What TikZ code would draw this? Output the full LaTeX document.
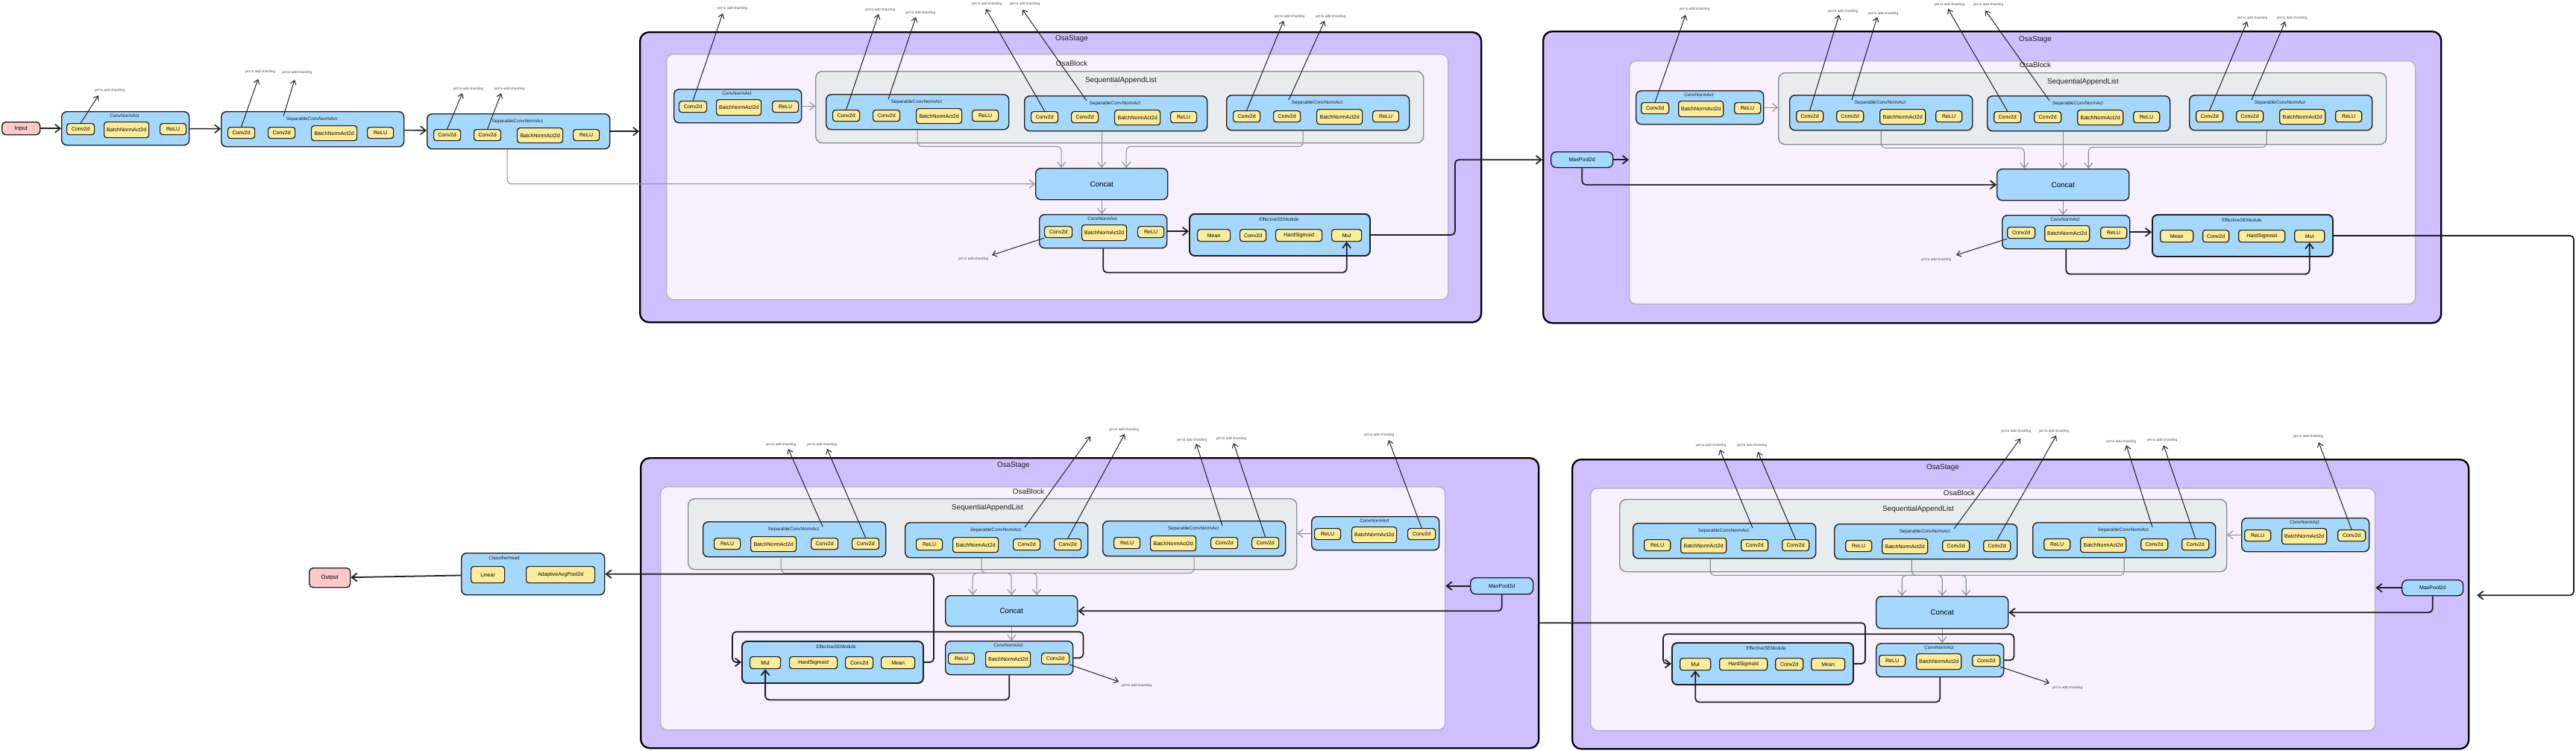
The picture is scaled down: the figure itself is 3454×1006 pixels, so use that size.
\documentclass[tikz,border=0pt]{standalone}
\usepackage{fontspec}
\setmainfont{Liberation Sans}
\usetikzlibrary{arrows.meta}
\definecolor{ink}{HTML}{1E1E1E}
\definecolor{stagepurple}{HTML}{D0BFFF}
\definecolor{blockpink}{HTML}{F8F0FC}
\definecolor{blockedge}{HTML}{ADB5BD}
\definecolor{listgray}{HTML}{E9ECEF}
\definecolor{listedge}{HTML}{868E96}
\definecolor{modblue}{HTML}{A5D8FF}
\definecolor{opyellow}{HTML}{FFEC99}
\definecolor{iopink}{HTML}{FFC9C9}
\newcommand{\opfont}{\fontsize{2}{2.4}\selectfont}
\newcommand{\tagfont}{\fontsize{1.8}{2.2}\selectfont}
\newcommand{\titlefont}{\fontsize{2.8}{3.4}\selectfont}
\newcommand{\notefont}{\fontsize{1.35}{1.6}\selectfont}
\newcommand{\iofont}{\fontsize{2.2}{2.6}\selectfont}
\tikzset{
  stagebox/.style={draw=black,fill=stagepurple,line width=0.65pt,rounded corners=1.2mm,inner sep=0pt},
  blockbox/.style={draw=blockedge,fill=blockpink,line width=0.4pt,rounded corners=0.9mm,inner sep=0pt},
  listbox/.style={draw=listedge,fill=listgray,line width=0.4pt,rounded corners=0.9mm,inner sep=0pt},
  modbox/.style={draw=ink,fill=modblue,line width=0.4pt,rounded corners=0.7mm,inner sep=0pt},
  sebox/.style={modbox,line width=0.55pt},
  opbox/.style={draw=ink,fill=opyellow,line width=0.35pt,rounded corners=0.35mm,inner sep=0pt,font=\opfont},
  iobox/.style={draw=ink,fill=iopink,line width=0.4pt,rounded corners=0.5mm,inner sep=0pt,font=\iofont},
  tag/.style={font=\tagfont,inner sep=0pt,text=ink},
  title/.style={font=\titlefont,inner sep=0pt,text=ink},
  note/.style={font=\notefont,inner sep=0pt,text=ink!80},
  flow/.style={-{Straight Barb[length=0.7mm,width=1.1mm]},ink,line width=0.45pt},
  bigflow/.style={flow,line width=0.5pt,rounded corners=0.5mm},
  plainline/.style={ink,line width=0.5pt,rounded corners=0.5mm},
  link/.style={-{Straight Barb[length=0.7mm,width=1.1mm]},listedge,line width=0.3pt,rounded corners=0.6mm},
  notearrow/.style={-{Straight Barb[length=0.55mm,width=0.8mm]},ink,line width=0.28pt},
}
% box with top left corner at (x,y), size in px
\newcommand{\blk}[7]{% style, name, x, y, w, h, text
  \node[#1,anchor=north west,minimum width={#5*0.1mm},minimum height={#6*0.1mm}] (#2) at (#3,#4) {#7};}
\newcommand{\convnormact}[3]{% name, x, y
  \begin{scope}[shift={(#2,#3)}]
    \blk{modbox}{#1}{0}{0}{171}{45}{}
    \node[tag] (#1-t) at (85,6) {ConvNormAct};
    \blk{opbox}{#1-cv}{7}{16}{37}{15}{Conv2d}
    \blk{opbox}{#1-bn}{57}{14}{60}{21}{BatchNormAct2d}
    \blk{opbox}{#1-act}{132}{16}{35}{15}{ReLU}
  \end{scope}}
\newcommand{\convnormactr}[3]{% mirrored
  \begin{scope}[shift={(#2,#3)}]
    \blk{modbox}{#1}{0}{0}{171}{45}{}
    \node[tag] (#1-t) at (85,6) {ConvNormAct};
    \blk{opbox}{#1-act}{4}{16}{35}{15}{ReLU}
    \blk{opbox}{#1-bn}{54}{14}{60}{21}{BatchNormAct2d}
    \blk{opbox}{#1-cv}{129}{16}{37}{15}{Conv2d}
  \end{scope}}
\newcommand{\sepconv}[3]{%
  \begin{scope}[shift={(#2,#3)}]
    \blk{modbox}{#1}{0}{0}{245}{47}{}
    \node[tag] (#1-t) at (122,11) {SeparableConvNormAct};
    \blk{opbox}{#1-c1}{9}{21}{36}{15}{Conv2d}
    \blk{opbox}{#1-c2}{63}{21}{36}{15}{Conv2d}
    \blk{opbox}{#1-bn}{121}{19}{61}{20}{BatchNormAct2d}
    \blk{opbox}{#1-act}{196}{21}{35}{15}{ReLU}
    \coordinate (#1-p) at (84,7);
  \end{scope}}
\newcommand{\sepconvr}[3]{%
  \begin{scope}[shift={(#2,#3)}]
    \blk{modbox}{#1}{0}{0}{245}{47}{}
    \node[tag] (#1-t) at (122,11) {SeparableConvNormAct};
    \blk{opbox}{#1-act}{15}{22}{35}{15}{ReLU}
    \blk{opbox}{#1-bn}{64}{20}{61}{20}{BatchNormAct2d}
    \blk{opbox}{#1-c2}{145}{22}{36}{15}{Conv2d}
    \blk{opbox}{#1-c1}{200}{22}{36}{15}{Conv2d}
    \coordinate (#1-p) at (161,7);
  \end{scope}}
\newcommand{\semodule}[3]{%
  \begin{scope}[shift={(#2,#3)}]
    \blk{sebox}{#1}{0}{0}{242}{56}{}
    \node[tag] (#1-t) at (121,8) {EffectiveSEModule};
    \blk{opbox}{#1-mean}{11}{21}{44}{16}{Mean}
    \blk{opbox}{#1-cv}{68}{21}{35}{16}{Conv2d}
    \blk{opbox}{#1-hs}{116}{21}{62}{16}{HardSigmoid}
    \blk{opbox}{#1-mul}{191}{21}{40}{16}{Mul}
  \end{scope}}
\newcommand{\semoduler}[3]{%
  \begin{scope}[shift={(#2,#3)}]
    \blk{sebox}{#1}{0}{0}{243}{56}{}
    \node[tag] (#1-t) at (127,8) {EffectiveSEModule};
    \blk{opbox}{#1-mul}{11}{21}{41}{16}{Mul}
    \blk{opbox}{#1-hs}{64}{21}{64}{16}{HardSigmoid}
    \blk{opbox}{#1-cv}{139}{21}{37}{16}{Conv2d}
    \blk{opbox}{#1-mean}{187}{21}{45}{16}{Mean}
  \end{scope}}
\newcommand{\shard}[6]{% name, from, tip x, tip y, text x, text y
  \coordinate (#1) at (#3,#4);
  \draw[notearrow] (#2) -- (#1);
  \node[note] (#1-t) at (#5,#6) {yet to add sharding};}

\begin{document}
\begin{tikzpicture}[x=0.1mm,y=-0.1mm]
  \useasboundingbox (0,0) rectangle (3454,1006);
  % stages, blocks, lists
  \blk{stagebox}{st1}{857}{42}{1128}{389}{}
  \blk{stagebox}{st2}{2068}{41}{1204}{391}{}
  \blk{stagebox}{st3}{858}{613}{1204}{389}{}
  \blk{stagebox}{st4}{2107}{615}{1202}{388}{}
  \blk{blockbox}{blk1}{893}{72}{1048}{329}{}
  \blk{blockbox}{blk2}{2184}{81}{1054}{326}{}
  \blk{blockbox}{blk3}{885}{652}{1052}{326}{}
  \blk{blockbox}{blk4}{2132}{654}{1052}{325}{}
  \blk{listbox}{sal1}{1093}{95}{815}{96}{}
  \blk{listbox}{sal2}{2384}{97}{815}{96}{}
  \blk{listbox}{sal3}{922}{668}{816}{95}{}
  \blk{listbox}{sal4}{2171}{669}{814}{97}{}
  \node[title] (st1-t) at (1437,52) {OsaStage};
  \node[title] (blk1-t) at (1437,85) {OsaBlock};
  \node[title] (sal1-t) at (1503,108) {SequentialAppendList};
  \node[title] (st2-t) at (2729,53) {OsaStage};
  \node[title] (blk2-t) at (2729,87) {OsaBlock};
  \node[title] (sal2-t) at (2793,110) {SequentialAppendList};
  \node[title] (st3-t) at (1359,624) {OsaStage};
  \node[title] (blk3-t) at (1379,659) {OsaBlock};
  \node[title] (sal3-t) at (1324,681) {SequentialAppendList};
  \node[title] (st4-t) at (2605,627) {OsaStage};
  \node[title] (blk4-t) at (2627,661) {OsaBlock};
  \node[title] (sal4-t) at (2572,683) {SequentialAppendList};

  % stem
  \blk{iobox}{input}{2}{163}{51}{17}{Input}
  \convnormact{cna0}{82}{149}
  \sepconv{sep0}{296}{149}
  \sepconv{sep1}{572}{152}

  % stage 1
  \convnormact{stem1}{903}{119}
  \sepconv{s1a}{1107}{126}
  \sepconv{s1b}{1373}{128}
  \sepconv{s1c}{1644}{127}
  \blk{modbox,font=\titlefont}{cat1}{1388}{225}{177}{42}{Concat}
  \convnormact{agg1}{1393}{287}
  \semodule{ese1}{1594}{286}

  % stage 2
  \blk{modbox,font=\opfont}{mp2}{2079}{203}{83}{21}{MaxPool2d}
  \convnormact{stem2}{2193}{121}
  \sepconv{s2a}{2399}{127}
  \sepconv{s2b}{2664}{128}
  \sepconv{s2c}{2935}{127}
  \blk{modbox,font=\titlefont}{cat2}{2677}{226}{177}{42}{Concat}
  \convnormact{agg2}{2684}{288}
  \semodule{ese2}{2885}{287}

  % stage 3
  \blk{modbox,font=\opfont}{mp3}{1971}{774}{84}{22}{MaxPool2d}
  \convnormactr{stem3}{1758}{692}
  \sepconvr{s3a}{942}{699}
  \sepconvr{s3b}{1213}{700}
  \sepconvr{s3c}{1478}{698}
  \blk{modbox,font=\titlefont}{cat3}{1267}{798}{177}{41}{Concat}
  \convnormactr{agg3}{1267}{859}
  \semoduler{ese3}{994}{859}

  % stage 4
  \blk{modbox,font=\opfont}{mp4}{3220}{777}{82}{21}{MaxPool2d}
  \convnormactr{stem4}{3005}{694}
  \sepconvr{s4a}{2189}{701}
  \sepconvr{s4b}{2459}{702}
  \sepconvr{s4c}{2725}{700}
  \blk{modbox,font=\titlefont}{cat4}{2515}{799}{177}{43}{Concat}
  \convnormactr{agg4}{2515}{862}
  \semoduler{ese4}{2241}{861}

  % head
  \blk{modbox}{head}{618}{741}{192}{56}{}
  \node[tag] (head-t) at (676,748) {ClassifierHead};
  \blk{opbox}{head-fc}{631}{759}{45}{22}{Linear}
  \blk{opbox}{head-pool}{705}{759}{92}{22}{AdaptiveAvgPool2d}
  \blk{iobox}{output}{414}{761}{55}{26}{Output}

  % connectors: stem
  \draw[flow] (input) -- (cna0);
  \draw[flow] (cna0) -- (sep0);
  \draw[flow] (sep0) -- (sep1);
  \draw[flow] (sep1.east) -- (sep1.east -| st1.west);
  \draw[link] ([xshift=-1.5mm]sep1.south) |- (cat1.west);

  % connectors: stage 1
  \draw[link] (stem1.east) -- (stem1.east -| sal1.west);
  \draw[link] (s1a.south) -- ++(0,22) -| ([xshift=-5.4mm]cat1.north);
  \draw[link] (s1b.south -| cat1.north) -- (cat1.north);
  \draw[link] ([xshift=-2mm]s1c.south) -- ++(0,21) -| ([xshift=3.3mm]cat1.north);
  \draw[link] (cat1.south) -- (cat1.south |- agg1.north);
  \draw[bigflow] (agg1.east) -- (agg1.east -| ese1.west);
  \draw[bigflow] (agg1.south) -- ++(0,32) -| (ese1-mul.south);
  \draw[bigflow] (ese1.east) -- ++(113,0) |- (st2.west |- mp2.west);

  % connectors: stage 2
  \draw[bigflow] (mp2.east) -- (mp2.east -| blk2.west);
  \draw[bigflow] (mp2.south) |- (cat2.west);
  \draw[link] (stem2.east) -- (stem2.east -| sal2.west);
  \draw[link] (s2a.south) -- ++(0,23) -| ([xshift=-5.2mm]cat2.north);
  \draw[link] (s2b.south -| cat2.north) -- (cat2.north);
  \draw[link] ([xshift=-1.9mm]s2c.south) -- ++(0,22) -| ([xshift=3.4mm]cat2.north);
  \draw[link] (cat2.south) -- (cat2.south |- agg2.north);
  \draw[bigflow] (agg2.east) -- (agg2.east -| ese2.west);
  \draw[bigflow] (agg2.south) -- ++(0,33) -| (ese2-mul.south);
  \coordinate (st4-in) at (st4.east |- mp4.east);
  \draw[bigflow] (ese2.east) -- ++(322,0) |- ([xshift=1mm,yshift=-1mm]st4-in);

  % connectors: stage 4
  \draw[bigflow] (mp4.west) -- (mp4.west -| blk4.east);
  \draw[bigflow] (mp4.south) |- (cat4.east);
  \draw[link] (stem4.west) -- (stem4.west -| sal4.east);
  \draw[link] ([xshift=-1.9mm]s4a.south) -- ++(0,22) -| ([xshift=3.2mm]cat4.north);
  \draw[link] ([xshift=-1.9mm]s4b.south) -- ++(0,21) -| (cat4.north);
  \draw[link] (s4c.south) -- ++(0,23) -| ([xshift=-5.4mm]cat4.north);
  \draw[link] (cat4.south) -- (cat4.south |- agg4.north);
  \draw[bigflow] (agg4.east) -- ++(13,0) -- ++(0,-35) -| ([xshift=-1.1mm]ese4.west) -- (ese4.west);
  \draw[bigflow] (agg4.south) -- ++(0,33) -| (ese4-mul.south);
  \draw[plainline] (ese4.east) -- ++(15,0) |- ([yshift=-2.65mm]st3.east);

  % connectors: stage 3
  \draw[bigflow] (mp3.west) -- (mp3.west -| blk3.east);
  \draw[bigflow] (mp3.south) |- (cat3.east);
  \draw[link] (stem3.west) -- (stem3.west -| sal3.east);
  \draw[link] ([xshift=-1.8mm]s3a.south) -- ++(0,21) -| ([xshift=3.4mm]cat3.north);
  \draw[link] ([xshift=-2mm]s3b.south) -- ++(0,20) -| (cat3.north);
  \draw[link] (s3c.south) -- ++(0,22) -| ([xshift=-5.2mm]cat3.north);
  \draw[link] (cat3.south) -- (cat3.south |- agg3.north);
  \draw[bigflow] (agg3.east) -- ++(13,0) -- ++(0,-35) -| ([xshift=-1.2mm]ese3.west) -- (ese3.west);
  \draw[bigflow] (agg3.south) -- ++(0,33) -| (ese3-mul.south);
  \draw[bigflow] (ese3.east) -- ++(13,0) |- (head.east);
  \draw[bigflow] (head) -- (output);

  % sharding notes
  \shard{n1}{cna0-cv.north}{132}{128}{147}{121}
  \shard{n2}{sep0-c1.north}{346}{106}{349}{96}
  \shard{n3}{sep0-p}{395}{107}{398}{97}
  \shard{n4}{sep1-c1.north}{620}{125}{628}{119}
  \shard{n5}{sep1-c2.north}{672}{125}{683}{119}
  \shard{n6}{stem1-cv.north}{969}{18}{982}{11}
  \shard{n7}{s1a-c1.north}{1178}{19}{1180}{13}
  \shard{n8}{s1a-p}{1228}{23}{1234}{17}
  \shard{n9}{s1b-c1.north}{1322}{12}{1323}{5}
  \shard{n10}{s1b-p}{1371}{13}{1374}{5}
  \shard{n11}{s1c-c1.north}{1721}{28}{1729}{22}
  \shard{n12}{s1c-p}{1776}{28}{1784}{22}
  \shard{n13}{agg1-cv.south west}{1330}{342}{1305}{347}
  \shard{n14}{stem2-cv.north}{2260}{20}{2272}{12}
  \shard{n15}{s2a-c1.north}{2466}{20}{2471}{15}
  \shard{n16}{s2a-p}{2517}{23}{2525}{18}
  \shard{n17}{s2b-c1.north}{2612}{12}{2614}{6}
  \shard{n18}{s2b-p}{2662}{14}{2666}{6}
  \shard{n19}{s2c-c1.north}{3013}{29}{3020}{24}
  \shard{n20}{s2c-p}{3064}{29}{3073}{24}
  \shard{n21}{agg2-cv.south west}{2623}{342}{2596}{348}
  \shard{n22}{stem3-cv.north}{1862}{590}{1849}{583}
  \shard{n23}{s3a-c1.north}{1109}{602}{1102}{596}
  \shard{n24}{s3a-p}{1057}{602}{1047}{596}
  \shard{n25}{s3b-c1.north}{1508}{582}{1507}{576}
  \coordinate (n26) at (1462,585);
  \draw[notearrow] (s3b-p) -- (n26);
  \shard{n27}{s3c-c1.north}{1654}{594}{1651}{588}
  \shard{n28}{s3c-p}{1604}{595}{1598}{590}
  \shard{n29}{agg3-cv.south east}{1500}{914}{1524}{919}
  \shard{n30}{stem4-cv.north}{3109}{593}{3095}{585}
  \shard{n31}{s4a-p}{2306}{603}{2294}{597}
  \shard{n32}{s4a-c1.north}{2357}{606}{2349}{597}
  \shard{n33}{s4b-p}{2709}{588}{2703}{578}
  \shard{n34}{s4b-c1.north}{2757}{584}{2754}{578}
  \shard{n35}{s4c-p}{2851}{597}{2844}{592}
  \shard{n36}{s4c-c1.north}{2901}{597}{2899}{590}
  \shard{n37}{agg4-cv.south east}{2748}{916}{2772}{922}
\end{tikzpicture}
\end{document}
